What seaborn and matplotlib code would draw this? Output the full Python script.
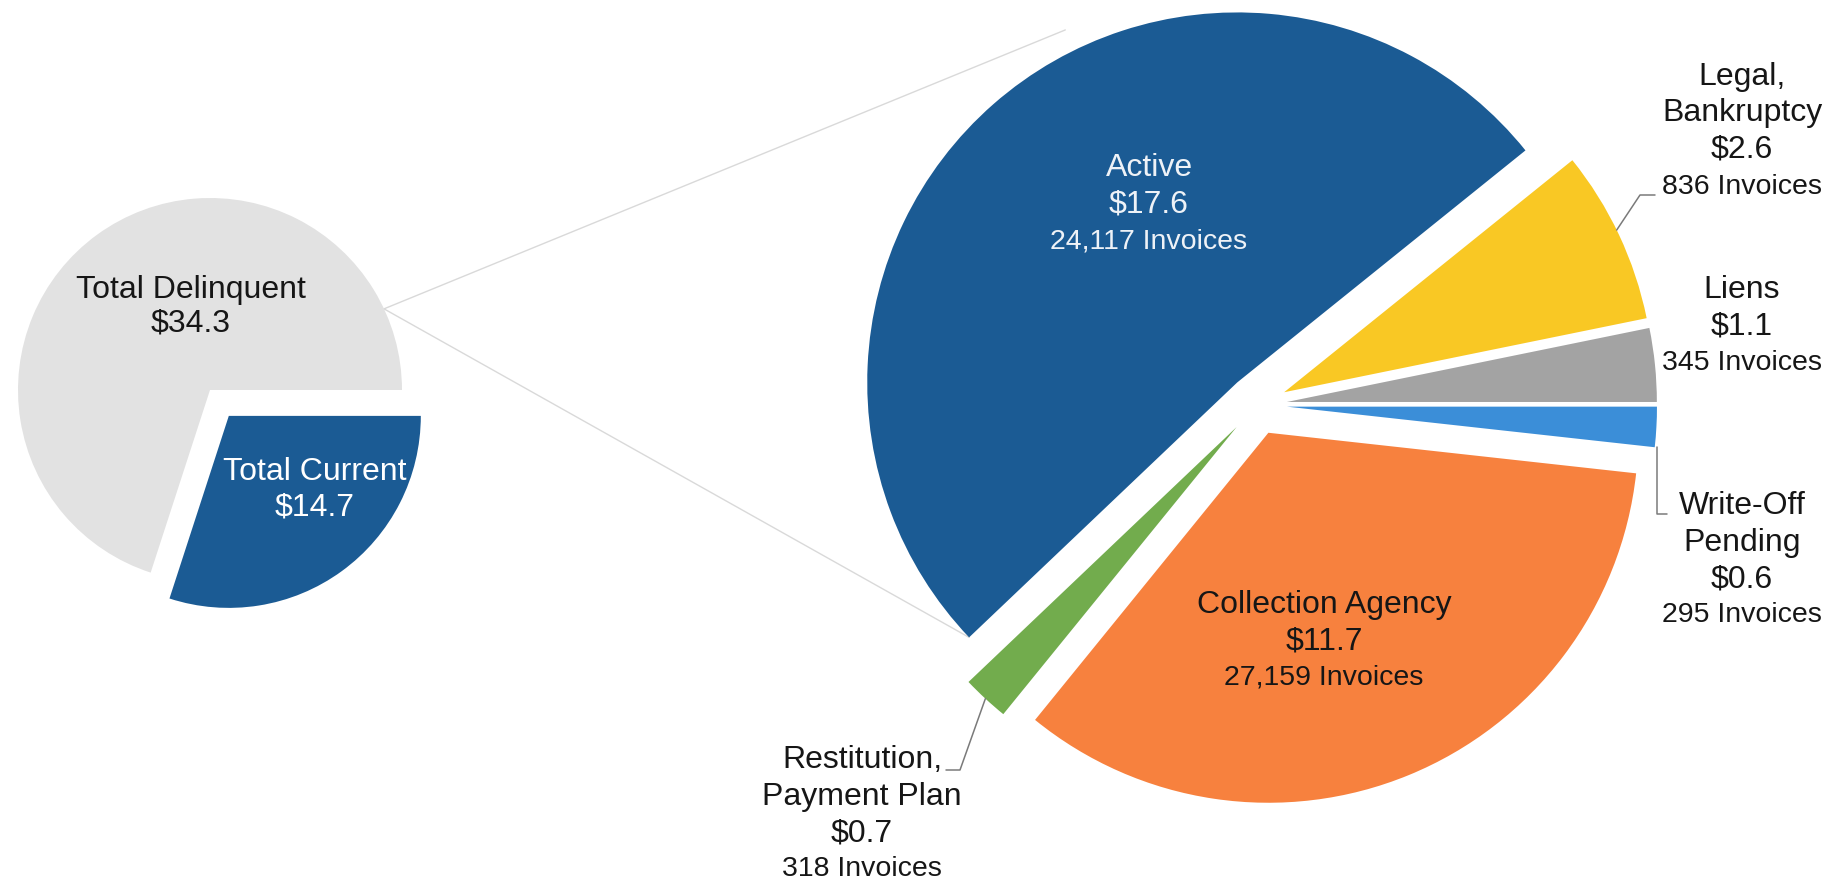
import numpy as np
import seaborn as sns
import matplotlib.pyplot as plt

# dollar amounts in millions
overview_labels = ["Total Delinquent", "Total Current"]
overview_values = [34.3, 14.7]

# breakdown of the delinquent slice, counter-clockwise from 3 o'clock
status_labels = ["Liens", "Legal,\nBankruptcy", "Active", "Restitution,\nPayment Plan",
                 "Collection Agency", "Write-Off\nPending"]
status_values = [1.1, 2.6, 17.6, 0.7, 11.7, 0.6]
status_invoices = [345, 836, 24117, 318, 27159, 295]

sns.set_theme(style="white")
plt.rcParams['font.family'] = ['Liberation Sans', 'DejaVu Sans']

W, H = 1844, 881
fig = plt.figure(figsize=(W / 100, H / 100), dpi=100)
ax = fig.add_axes([0, 0, 1, 1])

def px(x, y):
    # picture pixel (y down) -> data coords (y up)
    return x, H - y

overview_colors = ["#e2e2e2", "#1b5b94"]
status_colors = ["#a3a3a3", "#f9c824", "#1b5b94", "#72ac4d", "#f7813e", "#3b8ed8"]

# explode is in data units here (pixels), not a fraction of the radius
small_w, _ = ax.pie(overview_values, colors=overview_colors, center=px(210, 390), radius=192,
                    startangle=0, explode=[0, 32], wedgeprops=dict(linewidth=0))
big_w, _ = ax.pie(status_values, colors=status_colors, center=px(1257, 405), radius=370,
                  startangle=0, explode=[30] * len(status_values), wedgeprops=dict(linewidth=0))

def on_wedge(w, ang, k=1.0):
    a = np.deg2rad(ang)
    return w.center[0] + k * w.r * np.cos(a), w.center[1] + k * w.r * np.sin(a)

# connector lines from the delinquent slice to the breakdown pie
start = on_wedge(small_w[0], 25)
for end in [on_wedge(big_w[2], 116, 1.06), on_wedge(big_w[2], big_w[2].theta2)]:
    ax.plot([start[0], end[0]], [start[1], end[1]], color="#d9d9d9", lw=1, zorder=0)

# leader lines for the small slices
lead = dict(color="#7a7a7a", lw=1.1)
p = on_wedge(big_w[1], 26)
ax.plot([p[0], 1640, 1655], [p[1], H - 195, H - 195], **lead)
p = on_wedge(big_w[5], big_w[5].theta1)
ax.plot([p[0] + 2, p[0] + 2, p[0] + 12], [p[1], H - 514, H - 514], **lead)
p = on_wedge(big_w[3], (big_w[3].theta1 + big_w[3].theta2) / 2)
ax.plot([p[0], 960, 946], [p[1], H - 770, H - 770], **lead)

def block(x, y0, lines, sizes, color, step=36.5):
    for i, (t, s) in enumerate(zip(lines, sizes)):
        ax.text(x, H - (y0 + i * step), t, ha="center", va="center", fontsize=s, color=color)

dark = "#161616"
# overview labels
block(191, 290, [overview_labels[0], f"${overview_values[0]:.1f}"], [23, 23], dark, step=34)
block(315, 472, [overview_labels[1], f"${overview_values[1]:.1f}"], [23, 23], "white", step=35)

label_pos = [(1742, 290), (1742, 77), (1149, 168), (862, 760), (1324, 605), (1742, 506)]
for name, val, inv, (x, y), c in zip(status_labels, status_values, status_invoices, label_pos,
                                      [dark, dark, "#eef2f7", dark, dark, dark]):
    lines = name.split("\n") + [f"${val:.1f}", f"{inv:,} Invoices"]
    sizes = [23] * (len(lines) - 1) + [20.5]
    block(x, y, lines, sizes, c)

ax.set_xlim(0, W)
ax.set_ylim(0, H)
ax.set_aspect("equal")
ax.axis("off")
fig.savefig("out.png", dpi=100, facecolor="white")
